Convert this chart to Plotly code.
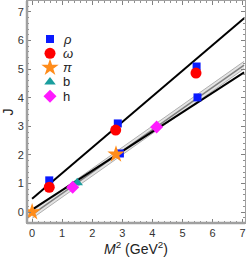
import plotly.graph_objects as go
import numpy as np

# ---- data ----
rho_m2 = [0.57, 2.85, 5.47, 2.92, 5.50]
rho_j = [1.11, 3.10, 5.09, 2.05, 4.01]
omega_m2 = [0.57, 2.78, 5.45]
omega_j = [0.87, 2.87, 4.86]
pi_m2 = [0.0, 2.79]
pi_j = [0.0, 2.02]
b_m2 = [1.50]
b_j = [1.03]
h_m2 = [1.35, 4.14]
h_j = [0.87, 2.98]

series_names = ["<i>ρ</i>", "<i>ω</i>", "<i>π</i>", "b", "h"]

# fitted trajectories: intercept, slope
upper_fit = (0.47, 0.895)
lower_fit = (0.09, 0.68)
band_hi = (0.04, 0.742)
band_mid = (-0.09, 0.742)
band_lo = (-0.22, 0.742)
fit_range = [0.0, 7.05]

xr = np.array(fit_range)
def line(p):
    return p[0] + p[1] * xr

styles = [
    dict(symbol="square", size=8, color="#0a1aff"),
    dict(symbol="circle", size=11, color="#ff0000"),
    dict(symbol="star", size=13, color="#ff8c1a"),
    dict(symbol="triangle-up", size=10, color="#1a9e9e"),
    dict(symbol="diamond", size=10, color="#ff1aff"),
]
series = [(rho_m2, rho_j), (omega_m2, omega_j), (pi_m2, pi_j), (b_m2, b_j), (h_m2, h_j)]

fig = go.Figure()
# band
fig.add_trace(go.Scatter(x=xr, y=line(band_lo), mode="lines",
                         line=dict(color="#b0b0b0", width=1), showlegend=False, hoverinfo="skip"))
fig.add_trace(go.Scatter(x=xr, y=line(band_hi), mode="lines", fill="tonexty",
                         fillcolor="#e4e4e4",
                         line=dict(color="#b0b0b0", width=1), showlegend=False, hoverinfo="skip"))
fig.add_trace(go.Scatter(x=xr, y=line(band_mid), mode="lines",
                         line=dict(color="#808080", width=1.5), showlegend=False, hoverinfo="skip"))
fig.add_trace(go.Scatter(x=xr, y=line(lower_fit), mode="lines",
                         line=dict(color="black", width=2), showlegend=False, hoverinfo="skip"))
fig.add_trace(go.Scatter(x=xr, y=line(upper_fit), mode="lines",
                         line=dict(color="black", width=2), showlegend=False, hoverinfo="skip"))

for (sx, sy), st, nm in zip(series, styles, series_names):
    fig.add_trace(go.Scatter(x=sx, y=sy, mode="markers", name=nm, marker=st, showlegend=False))

# legend drawn on an overlay axis measured in pixels (compact row spacing)
leg_key_x, leg_text_x, leg_top, leg_step = 23, 35, 38, 14.3
for i, (st, nm) in enumerate(zip(styles, series_names)):
    yy = leg_top + i * leg_step
    fig.add_trace(go.Scatter(x=[leg_key_x], y=[yy], mode="markers", marker=st,
                             xaxis="x3", yaxis="y3", showlegend=False, hoverinfo="skip"))
    fig.add_annotation(x=leg_text_x, y=yy, xref="x3", yref="y3", text=nm, showarrow=False,
                       xanchor="left", yanchor="middle", borderpad=0,
                       font=dict(family="Liberation Sans, Arial", size=13, color="#222222"))

axis_common = dict(
    showgrid=False, zeroline=False, showline=True, linecolor="#a0a0a0", linewidth=1,
    mirror="allticks", ticks="inside", ticklen=4, tickcolor="#808080", tickwidth=1,
    tickfont=dict(family="Liberation Sans, Arial", size=11, color="#333333"),
    minor=dict(ticks="inside", ticklen=2, dtick=0.2, tickcolor="#909090", showgrid=False),
    dtick=1,
)
fig.update_xaxes(range=[-0.17, 7.08], tick0=0, **axis_common,
                 title=dict(text="<i>M</i><sup>2</sup> (GeV<sup>2</sup>)",
                            font=dict(family="Liberation Sans, Arial", size=14, color="#222222"),
                            standoff=4))
fig.update_yaxes(range=[-0.38, 7.38], tick0=0, **axis_common,
                 title=dict(text="J", font=dict(family="Liberation Sans, Arial", size=14, color="#222222"),
                            standoff=4))

# thicker left and bottom frame
fig.add_shape(type="line", xref="paper", yref="paper", x0=0, x1=0, y0=0, y1=1,
              line=dict(color="#a0a0a0", width=2.5))
fig.add_shape(type="line", xref="paper", yref="paper", x0=0, x1=1, y0=0, y1=0,
              line=dict(color="#a0a0a0", width=2.5))

fig.update_layout(
    width=249, height=258,
    margin=dict(l=27, r=4, t=1, b=35),
    plot_bgcolor="white", paper_bgcolor="white",
    showlegend=False,
    xaxis3=dict(overlaying="x", range=[0, 218], visible=False, fixedrange=True),
    yaxis3=dict(overlaying="y", range=[222, 0], visible=False, fixedrange=True),
)
fig.write_html("out.html", config={"displayModeBar": False},
               post_script="document.body.style.margin='0';")
